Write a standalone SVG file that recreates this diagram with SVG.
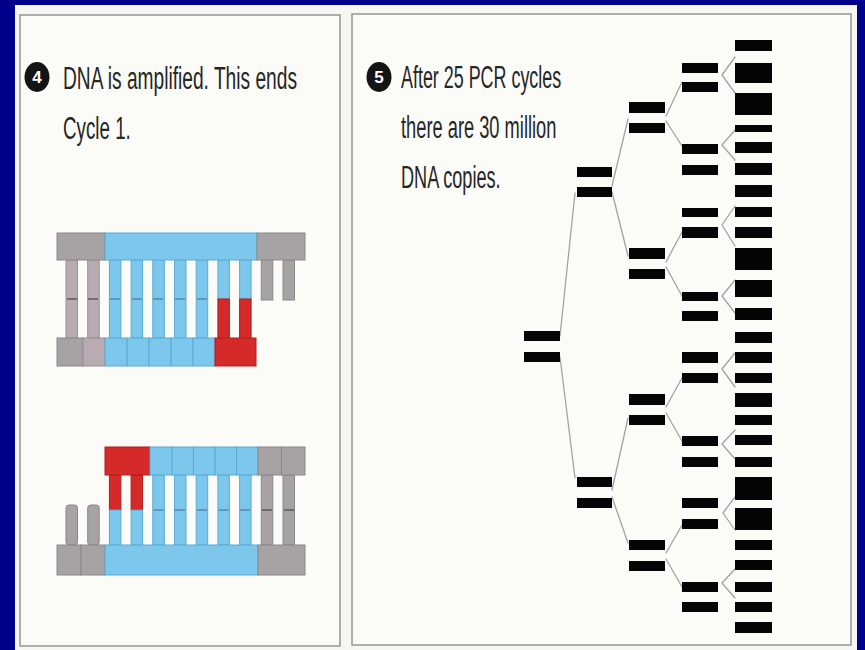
<svg xmlns="http://www.w3.org/2000/svg" width="865" height="650" viewBox="0 0 865 650">
  <style>
    .bg{fill:#00008a}
    .paper{fill:#f6f6f2}
    .panel{fill:#fbfbf8;stroke:#9c9c9c;stroke-width:1.6}
    .cap{font-family:"Liberation Sans",Arial,sans-serif;font-size:31px;fill:#262626}
    .num{font-family:"Liberation Sans",Arial,sans-serif;font-size:17px;font-weight:bold;fill:#fff;text-anchor:middle}
    .dot{fill:#141414}
    .bar{fill:#050505}
    .link{stroke:#a3a3a3;stroke-width:1.3;fill:none;stroke-linecap:round;stroke-linejoin:round}
    .gy{fill:#a7a3a5;stroke:#8b8789;stroke-width:1}
    .gp{fill:#b8acb2;stroke:#988e94;stroke-width:1}
    .bl{fill:#7cc7eb;stroke:#58acd5;stroke-width:1}
    .rd{fill:#d52a2a;stroke:#b01e1e;stroke-width:1}
    .mid{stroke:#4f86a6;stroke-width:1.4}
    .midg{stroke:#555;stroke-width:1.4}
  </style>

  <!-- slide background and paper -->
  <rect class="bg" x="0" y="0" width="865" height="650"/>
  <rect class="paper" x="15" y="5" width="842" height="645"/>

  <!-- panel frames -->
  <rect id="panel-4" class="panel" x="20" y="15" width="320" height="631"/>
  <rect id="panel-5" class="panel" x="352" y="14" width="499" height="631"/>

  <!-- step 4 caption (condensed type: horizontal scale 0.6) -->
  <g id="caption-4">
    <ellipse class="dot" cx="37" cy="77" rx="12.5" ry="15"/>
    <text class="num" x="37" y="83">4</text>
    <text class="cap" transform="translate(63,89) scale(0.6,1)" textLength="390" lengthAdjust="spacingAndGlyphs">DNA is amplified.  This ends</text>
    <text class="cap" transform="translate(63,139) scale(0.6,1)" textLength="113" lengthAdjust="spacingAndGlyphs">Cycle 1.</text>
  </g>

  <!-- step 5 caption -->
  <g id="caption-5">
    <ellipse class="dot" cx="379" cy="77" rx="12.5" ry="15"/>
    <text class="num" x="379" y="83">5</text>
    <text class="cap" transform="translate(401,88) scale(0.6,1)" textLength="267" lengthAdjust="spacingAndGlyphs">After 25 PCR cycles</text>
    <text class="cap" transform="translate(401,138) scale(0.6,1)" textLength="259" lengthAdjust="spacingAndGlyphs">there are 30 million</text>
    <text class="cap" transform="translate(401,188) scale(0.6,1)" textLength="166" lengthAdjust="spacingAndGlyphs">DNA copies.</text>
  </g>

  <!-- upper duplex: template on top, new strand with primer (red) below -->
  <g id="duplex-upper">
    <!-- rungs -->
    <rect class="gp" x="66" y="260" width="11.5" height="78"/>
    <rect class="gp" x="87.7" y="260" width="11.5" height="78"/>
    <rect class="bl" x="109.4" y="260" width="11.5" height="78"/>
    <rect class="bl" x="131.1" y="260" width="11.5" height="78"/>
    <rect class="bl" x="152.8" y="260" width="11.5" height="78"/>
    <rect class="bl" x="174.5" y="260" width="11.5" height="78"/>
    <rect class="bl" x="196.2" y="260" width="11.5" height="78"/>
    <rect class="bl" x="217.9" y="260" width="11.5" height="39"/>
    <rect class="bl" x="239.6" y="260" width="11.5" height="39"/>
    <rect class="rd" x="217.9" y="299" width="11.5" height="40"/>
    <rect class="rd" x="239.6" y="299" width="11.5" height="40"/>
    <rect class="gy" x="261.3" y="260" width="11.5" height="40"/>
    <rect class="gy" x="283" y="260" width="11.5" height="40"/>
    <g class="mid">
      <line x1="110" y1="299" x2="120" y2="299"/>
      <line x1="132" y1="299" x2="142" y2="299"/>
      <line x1="153" y1="299" x2="163" y2="299"/>
      <line x1="175" y1="299" x2="185" y2="299"/>
      <line x1="197" y1="299" x2="207" y2="299"/>
    </g>
    <g class="midg">
      <line x1="67" y1="299" x2="77" y2="299"/>
      <line x1="88" y1="299" x2="98" y2="299"/>
    </g>
    <!-- top backbone -->
    <rect class="gy" x="57" y="233" width="48" height="27"/>
    <rect class="bl" x="105" y="233" width="152" height="27"/>
    <rect class="gy" x="257" y="233" width="48" height="27"/>
    <!-- bottom backbone -->
    <rect class="gy" x="57" y="338" width="26" height="28"/>
    <rect class="gp" x="83" y="338" width="22" height="28"/>
    <rect class="bl" x="105" y="338" width="22" height="28"/>
    <rect class="bl" x="127" y="338" width="22" height="28"/>
    <rect class="bl" x="149" y="338" width="22" height="28"/>
    <rect class="bl" x="171" y="338" width="22" height="28"/>
    <rect class="bl" x="193" y="338" width="22" height="28"/>
    <rect class="rd" x="215" y="338" width="41" height="28"/>
  </g>

  <!-- lower duplex: primer (red) on top strand, template below -->
  <g id="duplex-lower">
    <!-- rungs -->
    <rect class="gy" x="66" y="505" width="11.5" height="40" rx="3"/>
    <rect class="gy" x="87.7" y="505" width="11.5" height="40" rx="3"/>
    <rect class="rd" x="109.4" y="475" width="11.5" height="35"/>
    <rect class="rd" x="131.1" y="475" width="11.5" height="35"/>
    <rect class="bl" x="109.4" y="510" width="11.5" height="35"/>
    <rect class="bl" x="131.1" y="510" width="11.5" height="35"/>
    <rect class="bl" x="152.8" y="475" width="11.5" height="70"/>
    <rect class="bl" x="174.5" y="475" width="11.5" height="70"/>
    <rect class="bl" x="196.2" y="475" width="11.5" height="70"/>
    <rect class="bl" x="217.9" y="475" width="11.5" height="70"/>
    <rect class="bl" x="239.6" y="475" width="11.5" height="70"/>
    <rect class="gy" x="261.3" y="475" width="11.5" height="70"/>
    <rect class="gy" x="283" y="475" width="11.5" height="70"/>
    <g class="mid">
      <line x1="153.5" y1="510" x2="163.5" y2="510"/>
      <line x1="175" y1="510" x2="185" y2="510"/>
      <line x1="197" y1="510" x2="207" y2="510"/>
      <line x1="218.5" y1="510" x2="228.5" y2="510"/>
      <line x1="240" y1="510" x2="250" y2="510"/>
    </g>
    <g class="midg">
      <line x1="262" y1="510" x2="272" y2="510"/>
      <line x1="284" y1="510" x2="294" y2="510"/>
    </g>
    <!-- top backbone -->
    <rect class="rd" x="105" y="447" width="45" height="28"/>
    <rect class="bl" x="150" y="447" width="22" height="28"/>
    <rect class="bl" x="172" y="447" width="21.5" height="28"/>
    <rect class="bl" x="193.5" y="447" width="21.5" height="28"/>
    <rect class="bl" x="215" y="447" width="21.5" height="28"/>
    <rect class="bl" x="236.5" y="447" width="21.5" height="28"/>
    <rect class="gy" x="258" y="447" width="23.5" height="28"/>
    <rect class="gy" x="281.5" y="447" width="23.5" height="28"/>
    <!-- bottom backbone -->
    <rect class="gy" x="57" y="545" width="24" height="30"/>
    <rect class="gy" x="81" y="545" width="24" height="30"/>
    <rect class="bl" x="105" y="545" width="153" height="30"/>
    <rect class="gy" x="258" y="545" width="47" height="30"/>
  </g>

  <!-- amplification tree: branch lines -->
  <g id="connectors" class="link">
    <path d="M560,336 L575,193 M560,357 L575,478"/>
    <path d="M612,186 L628,119 M612,192 L628,256"/>
    <path d="M612,490 L628,418 M612,497 L628,543"/>
    <path d="M666,116 L682,82 M666,121 L682,146"/>
    <path d="M666,262 L682,232 M666,267 L682,296"/>
    <path d="M666,407 L682,378 M666,413 L682,441"/>
    <path d="M666,553 L682,525 M666,559 L682,587"/>
    <path d="M735,57 L722,75 L735,93"/>
    <path d="M735,130 L722,145 L735,160"/>
    <path d="M735,206 L722,225 L735,246"/>
    <path d="M735,280 L722,296 L735,313"/>
    <path d="M735,353 L722,369 L735,387"/>
    <path d="M735,430 L722,444 L735,459"/>
    <path d="M735,497 L723,513 L735,530"/>
    <path d="M735,569 L722,583 L735,598"/>
  </g>

  <!-- amplification tree: DNA copies per cycle -->
  <g id="cycle-0">
    <rect class="bar" x="524" y="331" width="36" height="10"/>
    <rect class="bar" x="524" y="352" width="36" height="10"/>
  </g>
  <g id="cycle-1">
    <rect class="bar" x="577" y="167" width="35" height="10"/>
    <rect class="bar" x="577" y="187" width="35" height="10"/>
    <rect class="bar" x="577" y="477" width="35" height="10"/>
    <rect class="bar" x="577" y="498" width="35" height="10"/>
  </g>
  <g id="cycle-2">
    <rect class="bar" x="629" y="102" width="36" height="11"/>
    <rect class="bar" x="629" y="123" width="36" height="10"/>
    <rect class="bar" x="629" y="248" width="36" height="11"/>
    <rect class="bar" x="629" y="269" width="36" height="10"/>
    <rect class="bar" x="629" y="394" width="36" height="11"/>
    <rect class="bar" x="629" y="415" width="36" height="10"/>
    <rect class="bar" x="629" y="540" width="36" height="10"/>
    <rect class="bar" x="629" y="561" width="36" height="10"/>
  </g>
  <g id="cycle-3">
    <rect class="bar" x="682" y="63" width="36" height="10"/>
    <rect class="bar" x="682" y="82" width="36" height="10"/>
    <rect class="bar" x="682" y="144" width="36" height="10"/>
    <rect class="bar" x="682" y="165" width="36" height="10"/>
    <rect class="bar" x="682" y="208" width="36" height="9"/>
    <rect class="bar" x="682" y="227" width="36" height="11"/>
    <rect class="bar" x="682" y="292" width="36" height="9"/>
    <rect class="bar" x="682" y="311" width="36" height="10"/>
    <rect class="bar" x="682" y="352" width="36" height="11"/>
    <rect class="bar" x="682" y="373" width="36" height="10"/>
    <rect class="bar" x="682" y="436" width="36" height="10"/>
    <rect class="bar" x="682" y="457" width="36" height="10"/>
    <rect class="bar" x="682" y="498" width="36" height="10"/>
    <rect class="bar" x="682" y="519" width="36" height="10"/>
    <rect class="bar" x="682" y="582" width="36" height="10"/>
    <rect class="bar" x="682" y="602" width="36" height="10"/>
  </g>
  <g id="cycle-4">
    <rect class="bar" x="735" y="40" width="37" height="11"/>
    <rect class="bar" x="735" y="63" width="37" height="20"/>
    <rect class="bar" x="735" y="93" width="37" height="22"/>
    <rect class="bar" x="735" y="125" width="37" height="7"/>
    <rect class="bar" x="735" y="142" width="37" height="11"/>
    <rect class="bar" x="735" y="163" width="37" height="12"/>
    <rect class="bar" x="735" y="185" width="37" height="12"/>
    <rect class="bar" x="735" y="207" width="37" height="10"/>
    <rect class="bar" x="735" y="227" width="37" height="11"/>
    <rect class="bar" x="735" y="248" width="37" height="22"/>
    <rect class="bar" x="735" y="280" width="37" height="17"/>
    <rect class="bar" x="735" y="308" width="37" height="12"/>
    <rect class="bar" x="735" y="332" width="37" height="11"/>
    <rect class="bar" x="735" y="352" width="37" height="11"/>
    <rect class="bar" x="735" y="373" width="37" height="10"/>
    <rect class="bar" x="735" y="393" width="37" height="14"/>
    <rect class="bar" x="735" y="415" width="37" height="10"/>
    <rect class="bar" x="735" y="435" width="37" height="10"/>
    <rect class="bar" x="735" y="457" width="37" height="10"/>
    <rect class="bar" x="735" y="477" width="37" height="23"/>
    <rect class="bar" x="735" y="508" width="37" height="22"/>
    <rect class="bar" x="735" y="540" width="37" height="10"/>
    <rect class="bar" x="735" y="560" width="37" height="10"/>
    <rect class="bar" x="735" y="582" width="37" height="10"/>
    <rect class="bar" x="735" y="602" width="37" height="10"/>
    <rect class="bar" x="735" y="622" width="37" height="11"/>
  </g>
</svg>
